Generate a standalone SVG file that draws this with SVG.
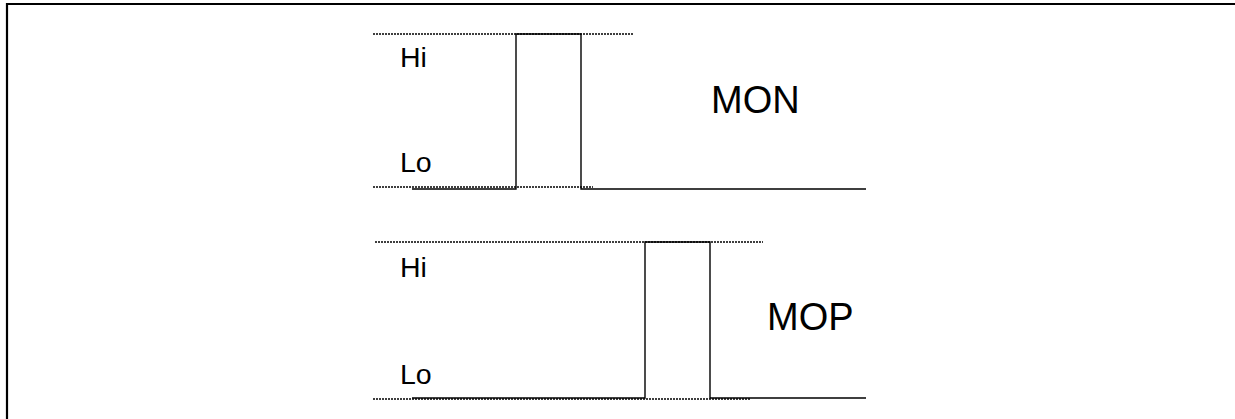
<svg xmlns="http://www.w3.org/2000/svg" width="1235" height="419" viewBox="0 0 1235 419">
<style>
.frame{fill:none;stroke:#000;stroke-width:2.2}
.dot{fill:none;stroke:#000;stroke-width:1.5;stroke-dasharray:2,1}
.sig{fill:none;stroke:#000;stroke-width:1.4}
.lbl{font-family:"Liberation Sans",Arial,sans-serif;fill:#000}
.s{font-size:28.5px}
.b{font-size:38px}
</style>
<rect width="1235" height="419" fill="#fff"/>
<path class="frame" d="M7,430 V4 H1240"/>
<g id="mon">
<line class="dot" x1="373" y1="34" x2="633" y2="34"/>
<line class="dot" x1="373" y1="187" x2="593" y2="187"/>
<text class="lbl s" x="400" y="67">Hi</text>
<text class="lbl s" x="400" y="172">Lo</text>
<text class="lbl b" x="711" y="113">MON</text>
</g>
<g id="mop">
<line class="dot" x1="375" y1="242" x2="763" y2="242"/>
<line class="dot" x1="373" y1="399" x2="750" y2="399"/>
<text class="lbl s" x="400" y="277">Hi</text>
<text class="lbl s" x="400" y="384">Lo</text>
<text class="lbl b" x="767" y="330">MOP</text>
</g>
<g id="connectors">
<path class="sig" d="M412,189 H516 V34 H581 V189 H866"/>
<path class="sig" d="M412,398 H645 V242 H710 V398 H866"/>
</g>
</svg>
